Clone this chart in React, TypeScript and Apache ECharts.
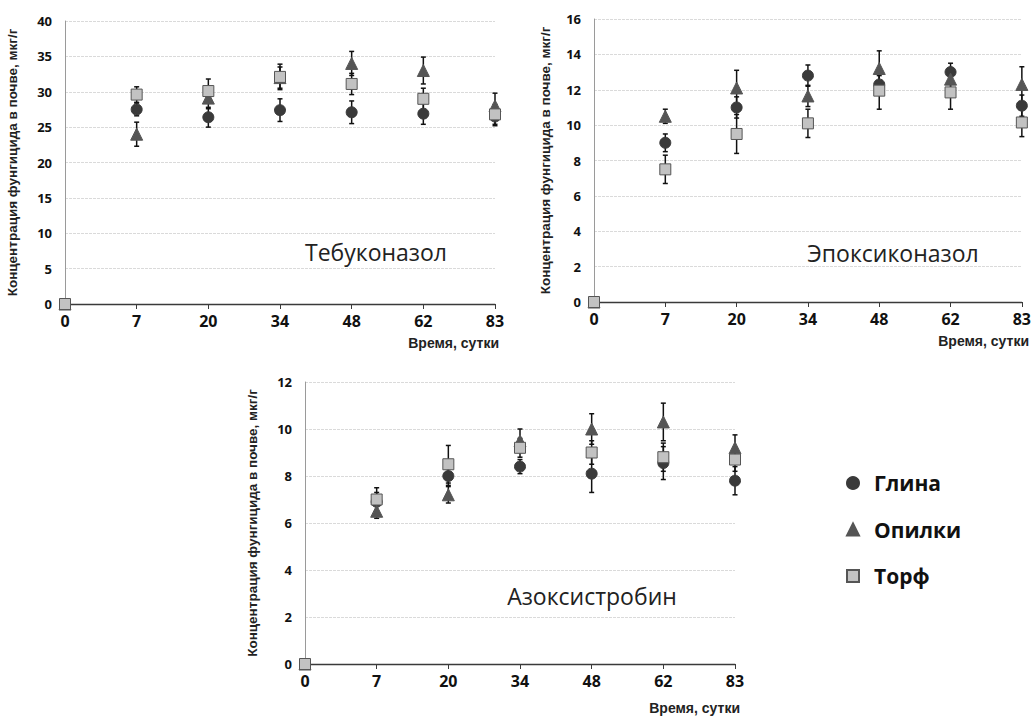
import React, { useEffect, useRef } from 'react';
import * as echarts from 'echarts';

const days = ['0', '7', '20', '34', '48', '62', '83'];
const seriesNames = ['Глина', 'Опилки', 'Торф'];
const panelTitles = ['Тебуконазол', 'Эпоксиконазол', 'Азоксистробин'];
const xAxisTitle = 'Время, сутки';
const yAxisTitle = 'Концентрация фунгицида в почве, мкг/г';
const yMax = [40, 16, 12];
const yStep = [5, 2, 2];

// Тебуконазол
const tebGlina = [0, 27.5, 26.4, 27.4, 27.1, 26.9, 26.5];
const tebGlinaErr = [0, 0.9, 1.4, 1.6, 1.6, 1.5, 1.3];
const tebOpilki = [0, 24.0, 29.1, 32.0, 34.0, 33.0, 28.0];
const tebOpilkiErr = [0, 1.7, 1.5, 1.5, 1.7, 1.9, 1.8];
const tebTorf = [0, 29.6, 30.1, 32.1, 31.1, 29.0, 26.8];
const tebTorfErr = [0, 1.1, 1.7, 1.8, 1.5, 1.5, 1.4];

// Эпоксиконазол
const epoGlina = [0, 9.0, 11.0, 12.8, 12.3, 13.0, 11.1];
const epoGlinaErr = [0, 0.5, 0.6, 0.6, 0.5, 0.5, 0.6];
const epoOpilki = [0, 10.5, 12.1, 11.65, 13.2, 12.6, 12.3];
const epoOpilkiErr = [0, 0.4, 1.0, 0.6, 1.0, 0.5, 1.0];
const epoTorf = [0, 7.5, 9.5, 10.1, 11.95, 11.85, 10.15];
const epoTorfErr = [0, 0.8, 1.1, 0.8, 1.05, 0.95, 0.8];

// Азоксистробин
const azoGlina = [0, 6.9, 8.0, 8.4, 8.1, 8.55, 7.8];
const azoGlinaErr = [0, 0.4, 0.4, 0.3, 0.8, 0.7, 0.6];
const azoOpilki = [0, 6.5, 7.2, 9.5, 10.0, 10.3, 9.2];
const azoOpilkiErr = [0, 0.3, 0.35, 0.5, 0.65, 0.8, 0.55];
const azoTorf = [0, 7.0, 8.5, 9.2, 9.0, 8.8, 8.7];
const azoTorfErr = [0, 0.5, 0.8, 0.4, 0.5, 0.6, 0.5];

const panels = [
  { vals: [tebGlina, tebOpilki, tebTorf], errs: [tebGlinaErr, tebOpilkiErr, tebTorfErr] },
  { vals: [epoGlina, epoOpilki, epoTorf], errs: [epoGlinaErr, epoOpilkiErr, epoTorfErr] },
  { vals: [azoGlina, azoOpilki, azoTorf], errs: [azoGlinaErr, azoOpilkiErr, azoTorfErr] },
];

const FONT = '"Open Sans", "DejaVu Sans", sans-serif';
const FONT_B = '"Liberation Sans", Arial, sans-serif';

const symbols = ['circle', 'triangle', 'rect'];
const symbolSizes = [11, 12, 11];
const fills = ['#3a3a3a', '#555555', '#c2c2c2'];
const borders = ['#3a3a3a', '#555555', '#555555'];

export default function App() {
  const ref = useRef<HTMLDivElement>(null);
  useEffect(() => {
    if (!ref.current) return;
    const chart = echarts.init(ref.current, undefined, { renderer: 'svg' });

    const grids = [
      { left: 65, top: 21, width: 430, height: 283 },
      { left: 594, top: 19, width: 430, height: 283 },
      { left: 305, top: 382, width: 430, height: 282 },
    ];
    const nameGaps = [46, 42, 46];

    const xAxes = grids.map((_, i) => ({
      type: 'category',
      gridIndex: i,
      data: days,
      boundaryGap: false,
      axisLine: { show: true, lineStyle: { color: '#3a3a3a', width: 1.3 } },
      axisTick: { show: true, alignWithLabel: true, length: 5, lineStyle: { color: '#3a3a3a' } },
      axisLabel: {
        color: '#111',
        fontSize: 16,
        fontWeight: 'bold',
        fontFamily: FONT,
        margin: 9,
        interval: 0,
      },
      splitLine: { show: false },
    }));

    const yAxes = grids.map((_, i) => ({
      type: 'value',
      gridIndex: i,
      min: 0,
      max: yMax[i],
      interval: yStep[i],
      name: yAxisTitle,
      nameLocation: 'middle',
      nameGap: nameGaps[i],
      nameRotate: 90,
      nameTextStyle: { color: '#222', fontSize: 13.5, fontWeight: 'bold', fontFamily: FONT_B },
      axisLine: { show: true, lineStyle: { color: '#9a9a9a', width: 1 } },
      axisTick: { show: false },
      axisLabel: {
        color: '#111',
        fontSize: 13,
        fontWeight: 'bold',
        fontFamily: FONT,
        margin: 13,
      },
      splitLine: { show: true, lineStyle: { color: '#dadada', width: 1, type: [3, 1] } },
    }));

    const series: any[] = [];
    panels.forEach((p, pi) => {
      p.vals.forEach((vals, si) => {
        series.push({
          type: 'custom',
          name: 'err-' + pi + '-' + si,
          xAxisIndex: pi,
          yAxisIndex: pi,
          z: 1,
          silent: true,
          data: vals.map((v, k) => [k, v, p.errs[si][k]]),
          encode: { x: 0, y: 1 },
          renderItem: (params: any, api: any) => {
            const x = api.value(0);
            const y = api.value(1);
            const e = api.value(2);
            if (!e) return null;
            const top = api.coord([x, y + e]);
            const bot = api.coord([x, y - e]);
            const cw = 2.5;
            const st = { stroke: '#111', lineWidth: 1.5 };
            return {
              type: 'group',
              children: [
                { type: 'line', shape: { x1: top[0], y1: top[1], x2: bot[0], y2: bot[1] }, style: st },
                { type: 'line', shape: { x1: top[0] - cw, y1: top[1], x2: top[0] + cw, y2: top[1] }, style: st },
                { type: 'line', shape: { x1: bot[0] - cw, y1: bot[1], x2: bot[0] + cw, y2: bot[1] }, style: st },
              ],
            };
          },
        });
      });
      p.vals.forEach((vals, si) => {
        series.push({
          type: 'scatter',
          name: seriesNames[si],
          xAxisIndex: pi,
          yAxisIndex: pi,
          z: 2 + si,
          symbol: symbols[si],
          symbolSize: symbolSizes[si],
          itemStyle: { color: fills[si], borderColor: borders[si], borderWidth: 1, opacity: 1 },
          data: vals,
        });
      });
    });

    const xTitleStyle = (text: string) => ({
      text,
      align: 'right',
      verticalAlign: 'middle',
      fontSize: 14,
      fontWeight: 'bold',
      fontFamily: FONT_B,
      fill: '#222',
    });

    const option: any = {
      animation: false,
      backgroundColor: '#ffffff',
      grid: grids,
      xAxis: xAxes,
      yAxis: yAxes,
      legend: {
        data: seriesNames,
        orient: 'vertical',
        left: 841,
        top: 466,
        itemWidth: 12,
        itemHeight: 12,
        itemGap: 22.5,
        selectedMode: false,
        textStyle: {
          color: '#111',
          fontSize: 21,
          fontWeight: 'bold',
          fontFamily: FONT,
          lineHeight: 24,
          padding: [0, 0, 0, 10],
        },
      },
      graphic: [
        { type: 'text', x: 499, y: 343, style: xTitleStyle(xAxisTitle) },
        { type: 'text', x: 1029, y: 341, style: xTitleStyle(xAxisTitle) },
        { type: 'text', x: 740, y: 708, style: xTitleStyle(xAxisTitle) },
        { type: 'text', x: 376, y: 252, style: { text: panelTitles[0], align: 'center', verticalAlign: 'middle', fontSize: 23, fontFamily: FONT, fill: '#222' } },
        { type: 'text', x: 893, y: 253, style: { text: panelTitles[1], align: 'center', verticalAlign: 'middle', fontSize: 23, fontFamily: FONT, fill: '#222' } },
        { type: 'text', x: 592, y: 596, style: { text: panelTitles[2], align: 'center', verticalAlign: 'middle', fontSize: 23, fontFamily: FONT, fill: '#222' } },
      ],
      series,
    };
    chart.setOption(option);
    return () => chart.dispose();
  }, []);

  return (
    <div
      ref={ref}
      style={{ position: 'absolute', left: 0, top: 0, width: 1034, height: 717, background: '#fff', overflow: 'hidden' }}
    />
  );
}
